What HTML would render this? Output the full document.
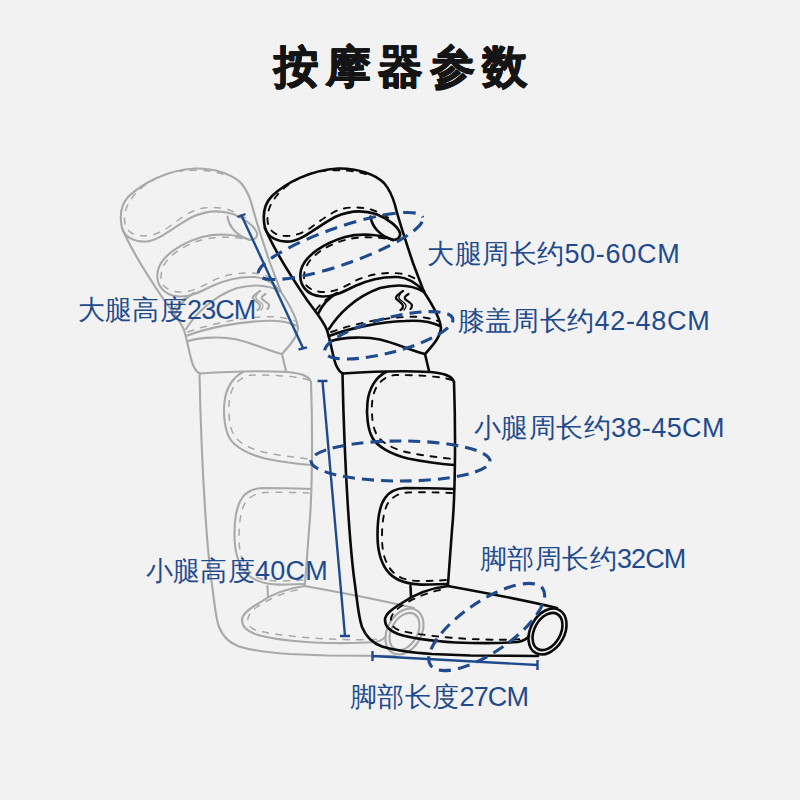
<!DOCTYPE html>
<html><head><meta charset="utf-8">
<style>
html,body{margin:0;padding:0;}
body{width:800px;height:800px;background:#f2f2f2;position:relative;overflow:hidden;font-family:"Liberation Sans",sans-serif;}
svg{position:absolute;left:0;top:0;}
.t{position:absolute;white-space:nowrap;color:#1f4b8e;line-height:1;}
.c{font-size:26.5px;letter-spacing:0.4px}
.l{font-size:27px;letter-spacing:0.7px}
.title{position:absolute;left:273.5px;top:44px;font-size:45px;font-weight:bold;color:#141414;letter-spacing:7.2px;text-shadow:0.5px 0 0 #141414,-0.5px 0 0 #141414,0 0.5px 0 #141414,0 -0.5px 0 #141414;line-height:1;white-space:nowrap;}
.s{stroke-width:var(--sw,2.6);}
.d{stroke-width:var(--dw,1.9);stroke-dasharray:6 7.5;}
</style></head><body>
<svg width="800" height="800" viewBox="0 0 800 800">
<defs>
<g id="leg" fill="none" stroke-linecap="round" stroke-linejoin="round">
 <!-- top cuff outer + right side -->
 <path class="s" d="M265,228 C262,214 264,204 272,196 C286,183 310,170 338,168.5 C357,168 375,174 384,183 C390,190 393,198 395,205 C398,218 407,245 413,263 L424,292"/>
 <!-- cuff bottom edge curling into roll -->
 <path class="s" d="M265,228 C268,238 279,242.5 290,241.5 C303,240 318,226 335,217 C348,211 362,209.5 376,214 C389,219 398,227 400,233 C401,237.5 397,240 393,240"/>
 <path class="s" d="M370.5,216.5 C372,227 380,236 393,240"/>
 <path class="d" d="M366,174 C352,170 338,169.5 322,171 C305,173.5 290,182 280,192 C272,200 267,210 267.5,220 C268,229 273,234 281,235.5 C290,237 300,235 311,227.5 C320,221 330,213 340,209.5 C350,206.5 362,207 371,209.5 C379,212 387,216.5 394,222"/>
 <!-- second strap -->
 <path class="s" d="M393,240 C380,234 360,233 345,237 C325,243 305,255 301,270 C298,284 306,295.5 322,296.5 C334,297 345,291 355,286 C368,280 383,276.5 398,277 C408,277.5 417,284 424,291"/>
 <path class="d" d="M385,238.5 C370,236.5 358,237 347,239.5 C332,243 318,251 310,260.5 C304,268 302.5,278 305.5,284.5 C310,290 318,292.5 326,292 C336,291.5 346,286 354,281.5 C366,275.5 378,273 392,273 C402,273 410,275 417,280"/>
 <!-- leg left edge thigh to knee -->
 <path class="s" d="M265,228 C272,245 290,275 307,300 C315,311 323,320 327,330 C331,343 333,358 336,365 C338,369.5 340,372.5 343,373.5"/>
 <!-- knee pad top-left edge -->
 <path class="s" d="M318,314 C322,305 330,297 337,293"/>
 <path class="d" d="M316,310 C320,304 327,298 334,295"/>
 <!-- knee band top curve -->
 <path class="s" d="M329,329 C338,314.5 355,297 380,288 C400,283 415,286.5 424,292"/>
 <!-- squiggle -->
 <path style="stroke-width:2.2" d="M403,291 C399,294 395,296.5 396,298.5 C398,301 403,303.5 403,306 C403,308 401.5,309.5 400.5,310"/>
 <path style="stroke-width:1.3" d="M400.5,294 C398.5,296 398.5,298 400,299.5 C402,301.5 406,303.5 406,306 C406,308 405,309 404,310"/>
 <path style="stroke-width:2.2" d="M408.5,294 C405.5,296 404,297.5 405,299 C407,301 412,303 412,305.5 C412,307 411,308.5 410.5,309"/>
 <!-- knee pad bottom edge -->
 <path class="s" d="M329,336 C350,328 380,322 405,321 C420,320 432,322 440,326"/>
 <path class="d" d="M331,332 C350,325 380,318 405,317 C420,316 430,318 438,321"/>
 <!-- lower band bottom -->
 <path class="s" d="M331,341 C345,337 365,336.5 380,339.5 C395,343 410,350 425,354"/>
 <!-- knee right edge -->
 <path class="s" d="M424,292 C432,304 440,318 441,328 C440,338 432,346 425,354 L429,371"/>
 <!-- lower leg top -->
 <path class="s" d="M343,373.5 C365,372 405,370.5 430,372 C442,373 452,375 454,382"/>
 <!-- lower leg left edge + heel + sole -->
 <path class="s" d="M342.5,374 C344.5,470 350,550 355,585 C357.5,603 358.5,617 362,627 C366,637 372,643 382,646.5 C395,650.5 410,652.5 432,654 L470,655.5 L538,656"/>
 <!-- lower leg right edge -->
 <path class="s" d="M454,382 C456,440 455,500 452,530 L448,584"/>
 <!-- calf pad 1 -->
 <path class="s" d="M386,372 C376,377 369,388 367.5,402 C366,415 368,430 372.5,438 C377,446 390,454 408,458.5 C425,462 440,464 454,465"/>
 <path class="d" d="M452,380 C440,376 415,375 395,375 C386,376 380,381 376,388 C372,396 371.5,405 372,414 C372.5,424 374,430 377,435 C381,442 390,447 402,451 C418,455 435,457 453,459"/>
 <!-- calf pad 2 -->
 <path class="s" d="M454,489 C440,488.5 420,488 405,488 C396,488.5 389,492 385,498 C380,505 377.5,518 377.5,535 C377.5,552 381,565 390,574 C397,581 408,584 421,584.6 C432,584.8 440,584 448,584"/>
 <path class="d" d="M452,493 C440,492.5 420,492 408,492.5 C399,493 392,497 388,503 C384,510 382,522 382,537 C382,552 385,563 392,571 C398,578 408,581 420,581 C432,581 440,580.5 446,580"/>
 <!-- foot top -->
 <path class="s" d="M448,586 C470,590 520,599 557,608"/>
 <!-- heel pad -->
 <path class="s" d="M448,586 C432,588 415,594 402,603 C392,609 385,614 385,620 C385,626 390,631 398,634 C410,638 432,641 456,642.5 C480,643.5 505,643 518,642 C523,641 527,639 529,636"/>
 <path class="d" d="M440,590 C425,593 410,600 400,607 C393,612 390,617 391,622 C392,627 396,630 404,631.5 C420,635 445,637.5 470,639 C495,640 510,640 522,639"/>
 <path class="s" d="M410.5,586 L411,597"/>
 <!-- toe opening -->
 <ellipse class="s" cx="547.5" cy="631.5" rx="17" ry="24.5" transform="rotate(29 547.5 631.5)"/>
 <ellipse class="s" cx="547.5" cy="631.5" rx="13" ry="20" transform="rotate(29 547.5 631.5)"/>
</g>
</defs>
<use href="#leg" x="-143" stroke="#a9a9a9" style="--sw:2.1;--dw:1.5"/>
<use href="#leg" stroke="#0a0a0a"/>
<g fill="none" stroke="#1f4b8e">
 <ellipse cx="340.6" cy="246" rx="87" ry="18.6" transform="rotate(-19.2 340.6 246)" stroke-width="3.1" stroke-dasharray="12.64 7.42" stroke-dashoffset="15.38"/>
 <ellipse cx="388.8" cy="335.3" rx="66.1" ry="17.3" transform="rotate(-14.7 388.8 335.3)" stroke-width="3.1" stroke-dasharray="11.97 7.03" stroke-dashoffset="8"/>
 <ellipse cx="400.5" cy="461" rx="89.5" ry="20" stroke-width="3.1" stroke-dasharray="11.96 7.02" stroke-dashoffset="11.5"/>
 <ellipse cx="486.7" cy="627" rx="67.9" ry="25.5" transform="rotate(-34.2 486.7 627)" stroke-width="3.1" stroke-dasharray="12.16 7.14" stroke-dashoffset="3.09"/>
 <g stroke-width="2.4">
  <path d="M241.5,215.5 L303,348 M237.5,217 L245.5,214 M298.5,349.5 L307,347.3"/>
  <path d="M322.5,381 L345,636 M317.5,381 L327.5,381 M340,636 L350,636"/>
  <path d="M372.5,656 L537.5,665 M372.5,651 L372.5,661 M537.5,660 L537.5,670"/>
 </g>
</g>
</svg>
<div class="title">按摩器参数</div>
<div class="t" style="left:427.4px;top:240.5px"><span class="c">大腿周长约</span><span class="l">50-60CM</span></div>
<div class="t" style="left:77.5px;top:296.5px"><span class="c">大腿高度</span><span class="l" style="letter-spacing:-1px">23CM</span></div>
<div class="t" style="left:457.5px;top:308px"><span class="c">膝盖周长约</span><span class="l">42-48CM</span></div>
<div class="t" style="left:474px;top:414.5px"><span class="c">小腿周长约</span><span class="l" style="letter-spacing:0.4px">38-45CM</span></div>
<div class="t" style="left:145.5px;top:558px"><span class="c">小腿高度</span><span class="l" style="letter-spacing:0.2px">40CM</span></div>
<div class="t" style="left:480px;top:545.5px"><span class="c">脚部周长约</span><span class="l" style="letter-spacing:-0.9px">32CM</span></div>
<div class="t" style="left:350px;top:683.5px"><span class="c">脚部长度</span><span class="l" style="letter-spacing:-0.9px">27CM</span></div>
</body></html>
